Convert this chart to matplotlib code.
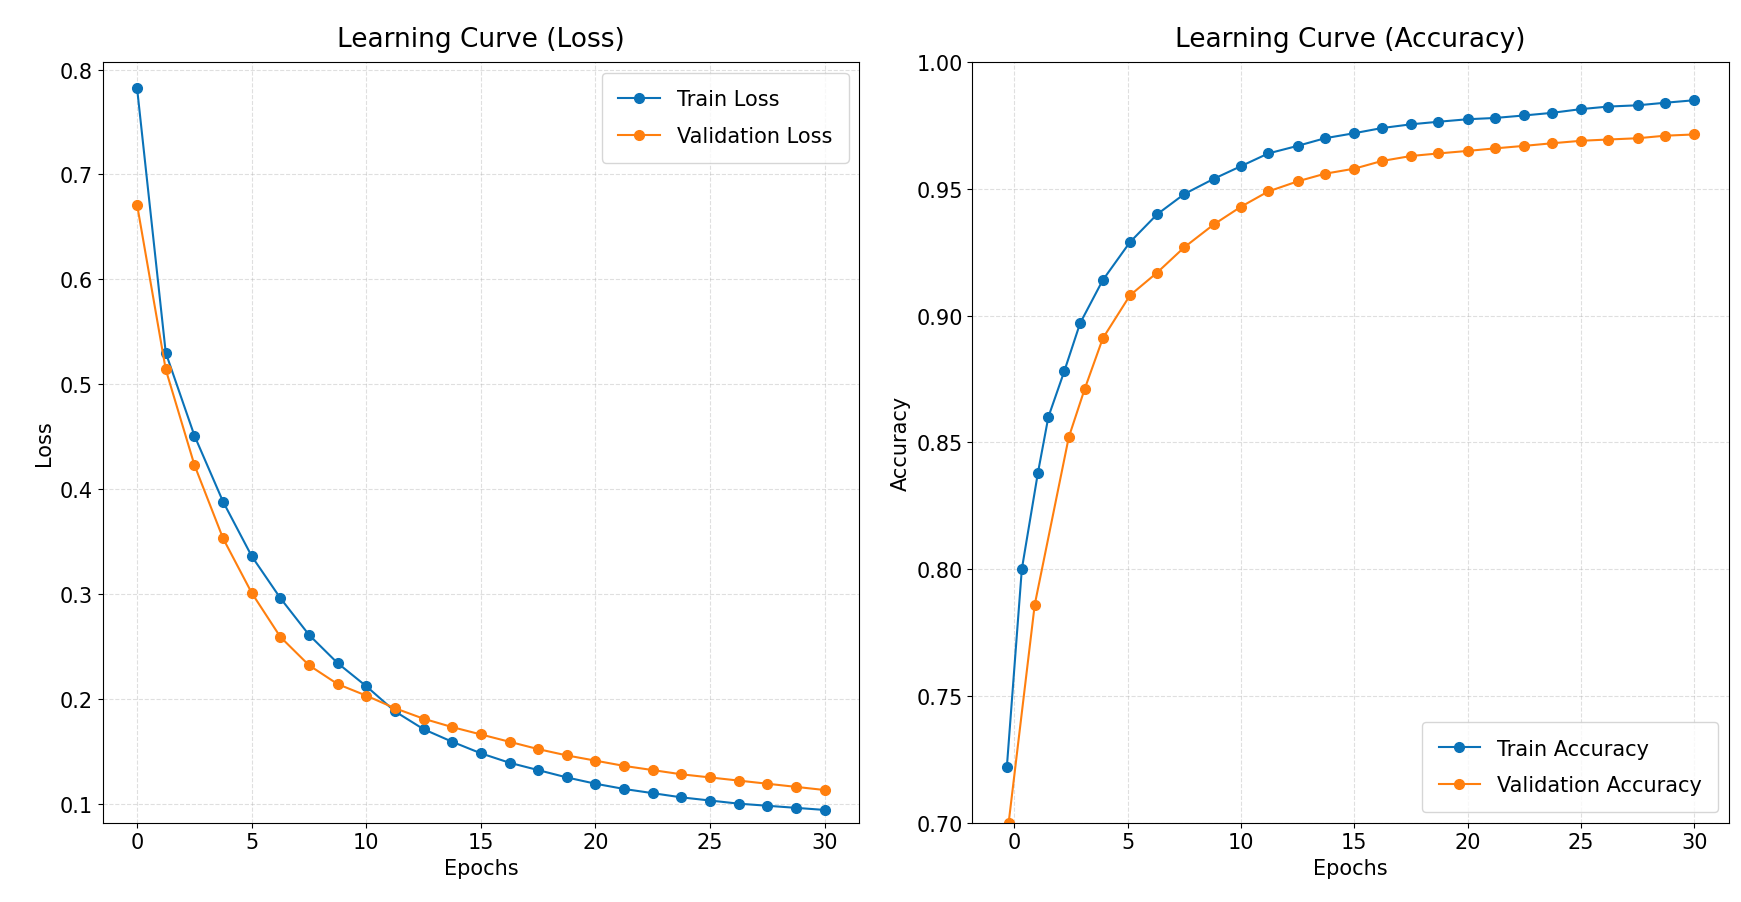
import numpy as np
import matplotlib.pyplot as plt

# loss curves, epochs evenly spaced
loss_epochs = np.linspace(0, 30, 25)
train_loss = [0.782, 0.53, 0.451, 0.388, 0.336, 0.296, 0.261, 0.234, 0.212, 0.188,
              0.171, 0.159, 0.148, 0.139, 0.132, 0.125, 0.119, 0.114, 0.110, 0.106,
              0.103, 0.100, 0.098, 0.096, 0.094]
val_loss = [0.671, 0.514, 0.423, 0.353, 0.301, 0.259, 0.232, 0.214, 0.203, 0.191,
            0.181, 0.173, 0.166, 0.159, 0.152, 0.146, 0.141, 0.136, 0.132, 0.128,
            0.125, 0.122, 0.119, 0.116, 0.113]

# accuracy curves
train_acc_epochs = [-0.33, 0.33, 1.04, 1.5, 2.2, 2.9, 3.9, 5.1, 6.3, 7.5, 8.8, 10.0, 11.2,
                    12.5, 13.7, 15.0, 16.2, 17.5, 18.7, 20.0, 21.2, 22.5, 23.7, 25.0,
                    26.2, 27.5, 28.7, 30.0]
train_acc = [0.722, 0.800, 0.838, 0.860, 0.878, 0.897, 0.914, 0.929, 0.940, 0.948, 0.954,
             0.959, 0.964, 0.967, 0.970, 0.972, 0.974, 0.9755, 0.9765, 0.9775, 0.978,
             0.979, 0.980, 0.9815, 0.9825, 0.983, 0.984, 0.985]
val_acc_epochs = [-0.25, 0.9, 2.4, 3.1, 3.9, 5.1, 6.3, 7.5, 8.8, 10.0, 11.2, 12.5, 13.7,
                  15.0, 16.2, 17.5, 18.7, 20.0, 21.2, 22.5, 23.7, 25.0, 26.2, 27.5,
                  28.7, 30.0]
val_acc = [0.700, 0.786, 0.852, 0.871, 0.891, 0.908, 0.917, 0.927, 0.936, 0.943, 0.949,
           0.953, 0.956, 0.958, 0.961, 0.963, 0.964, 0.965, 0.966, 0.967, 0.968, 0.969,
           0.9695, 0.970, 0.971, 0.9715]

blue = '#0a72b8'
orange = '#ff7f0e'

fig, (ax1, ax2) = plt.subplots(1, 2, figsize=(17.41, 9.03), dpi=100)

ax1.plot(loss_epochs, train_loss, 'o-', color=blue, label='Train Loss', markersize=7)
ax1.plot(loss_epochs, val_loss, 'o-', color=orange, label='Validation Loss', markersize=7)
ax1.set_title('Learning Curve (Loss)', fontsize=19, pad=12)
ax1.set_xlabel('Epochs', fontsize=15)
ax1.set_ylabel('Loss', fontsize=15)
ax1.set_ylim(0.082, 0.807)
ax1.legend(fontsize=15, borderpad=0.8, labelspacing=0.8)

ax2.plot(train_acc_epochs, train_acc, 'o-', color=blue, label='Train Accuracy', markersize=7)
ax2.plot(val_acc_epochs, val_acc, 'o-', color=orange, label='Validation Accuracy', markersize=7)
ax2.set_title('Learning Curve (Accuracy)', fontsize=19, pad=12)
ax2.set_xlabel('Epochs', fontsize=15)
ax2.set_ylabel('Accuracy', fontsize=15)
ax2.set_ylim(0.7, 1.0)
ax2.legend(loc='lower right', fontsize=15, borderpad=0.8, labelspacing=0.8)

for ax in (ax1, ax2):
    ax.grid(True, linestyle='--', alpha=0.4)
    ax.tick_params(labelsize=15)
    ax.set_xticks([0, 5, 10, 15, 20, 25, 30])

plt.subplots_adjust(left=0.059, right=0.993, bottom=0.088, top=0.93, wspace=0.15)
plt.savefig('out.png')
